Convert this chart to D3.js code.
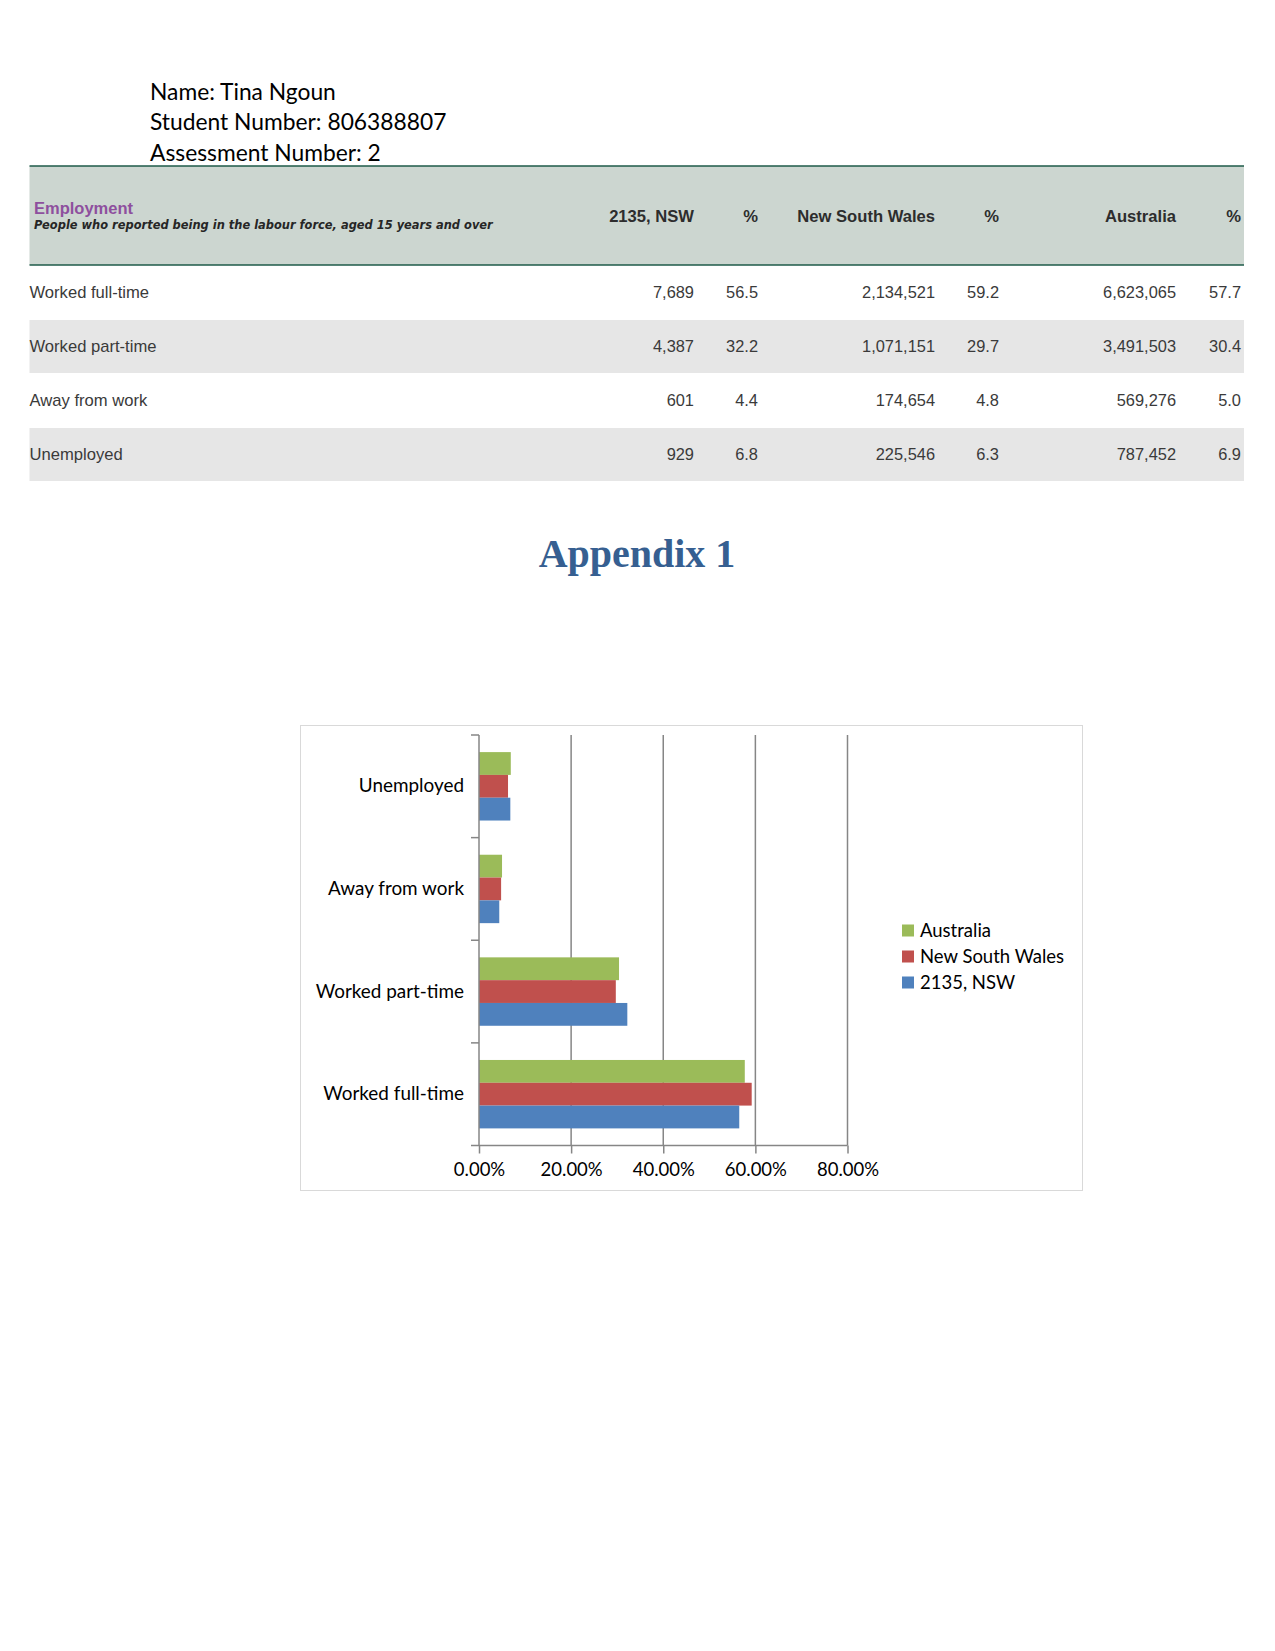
<!DOCTYPE html>
<html><head><meta charset="utf-8">
<script src="https://cdn.jsdelivr.net/npm/d3@7"></script>
<style>
html,body{margin:0;padding:0;background:#fff;}
svg{display:block;}
</style></head>
<body>
<svg id="page" width="1275" height="1651"></svg>
<script>
// ---- data ----
const headerLines = ["Name: Tina Ngoun", "Student Number: 806388807", "Assessment Number: 2"];
const tableTitle = "Employment";
const tableSubtitle = "People who reported being in the labour force, aged 15 years and over";
const columnHeaders = ["2135, NSW", "%", "New South Wales", "%", "Australia", "%"];
const rowLabels = ["Worked full-time", "Worked part-time", "Away from work", "Unemployed"];
const count2135 = ["7,689", "4,387", "601", "929"];
const pct2135 = [56.5, 32.2, 4.4, 6.8];
const countNSW = ["2,134,521", "1,071,151", "174,654", "225,546"];
const pctNSW = [59.2, 29.7, 4.8, 6.3];
const countAus = ["6,623,065", "3,491,503", "569,276", "787,452"];
const pctAus = [57.7, 30.4, 5.0, 6.9];
const appendixTitle = "Appendix 1";
const chartCategories = ["Unemployed", "Away from work", "Worked part-time", "Worked full-time"];
const seriesNames = ["Australia", "New South Wales", "2135, NSW"];
const seriesColors = ["#9bbb59", "#c0504d", "#4f81bd"];
const xTicks = [0, 0.2, 0.4, 0.6, 0.8];

const svg = d3.select("#page");
svg.append("rect").attr("width",1275).attr("height",1651).attr("fill","#fff");

// ---- header lines ----
svg.selectAll("text.hdr").data(headerLines).join("text")
  .attr("class","hdr")
  .attr("x",150).attr("y",(d,i)=>99.5+i*30.5)
  .attr("font-family","Lato, 'Open Sans', sans-serif")
  .attr("font-size",22.8).attr("fill","#000").text(d=>d);

// ---- table ----
const tLeft = 29.5, tRight = 1244;
const hTop = 166, hBot = 265;
svg.append("rect").attr("x",tLeft).attr("y",hTop).attr("width",tRight-tLeft).attr("height",hBot-hTop).attr("fill","#ccd6d0");
svg.append("line").attr("x1",tLeft).attr("x2",tRight).attr("y1",hTop).attr("y2",hTop).attr("stroke","#1e5a48").attr("stroke-width",1.5);
svg.append("line").attr("x1",tLeft).attr("x2",tRight).attr("y1",hBot).attr("y2",hBot).attr("stroke","#1e5a48").attr("stroke-width",1.5);
svg.append("text").attr("x",34).attr("y",214).attr("font-family","'Liberation Sans', Arial, sans-serif")
  .attr("font-weight","bold").attr("font-size",16.5).attr("fill","#8e4f9e").text(tableTitle);
svg.append("text").attr("x",34).attr("y",229).attr("font-family","'DejaVu Sans', sans-serif")
  .attr("font-weight","bold").attr("font-style","italic").attr("font-size",11.45).attr("fill","#262626").text(tableSubtitle);

const colX = [694, 758, 935, 999, 1176, 1241];
svg.selectAll("text.colh").data(columnHeaders).join("text")
  .attr("class","colh").attr("x",(d,i)=>colX[i]).attr("y",222)
  .attr("text-anchor","end").attr("font-family","'Liberation Sans', Arial, sans-serif")
  .attr("font-weight","bold").attr("font-size",16.6).attr("fill","#2d2d2d").text(d=>d);

const rowTop = 265, rowH = 54;
const rows = rowLabels.map((lab,i)=>({lab, cells:[count2135[i], pct2135[i].toFixed(1), countNSW[i], pctNSW[i].toFixed(1), countAus[i], pctAus[i].toFixed(1)]}));
const rg = svg.selectAll("g.row").data(rows).join("g").attr("class","row")
  .attr("transform",(d,i)=>`translate(0,${rowTop+i*rowH})`);
rg.filter((d,i)=>i%2===1).append("rect").attr("x",tLeft).attr("y",1).attr("width",tRight-tLeft).attr("height",rowH-1).attr("fill","#e6e6e6");
rg.append("text").attr("x",tLeft).attr("y",32.5).attr("font-family","'Liberation Sans', Arial, sans-serif")
  .attr("font-size",16.6).attr("fill","#3a3a3a").text(d=>d.lab);
rg.selectAll("text.cell").data(d=>d.cells).join("text").attr("class","cell")
  .attr("x",(d,i)=>colX[i]).attr("y",32.5).attr("text-anchor","end")
  .attr("font-family","'Liberation Sans', Arial, sans-serif")
  .attr("font-size",16.4).attr("fill","#3a3a3a").text(d=>d);

// ---- Appendix title ----
svg.append("text").attr("x",637).attr("y",567).attr("text-anchor","middle")
  .attr("font-family","'Liberation Serif', serif").attr("font-weight","bold")
  .attr("font-size",40).attr("fill","#365f91").text(appendixTitle);

// ---- chart ----
svg.append("rect").attr("x",300.5).attr("y",725.5).attr("width",782).attr("height",465)
  .attr("fill","#fff").attr("stroke","#d9d9d9").attr("stroke-width",1);

const plotTop = 735, plotBot = 1145.5;
const x = d3.scaleLinear().domain([0,0.8]).range([479,847.5]);
const y = d3.scaleBand().domain(chartCategories).range([plotTop,plotBot]).paddingInner(0.3333).paddingOuter(0.1667);
const ySub = d3.scaleBand().domain(seriesNames).range([0,y.bandwidth()]);
const step = y.step();
const axisColor = "#868686";

// gridlines
svg.selectAll("line.grid").data(xTicks.slice(1)).join("line").attr("class","grid")
  .attr("x1",d=>x(d)).attr("x2",d=>x(d)).attr("y1",plotTop).attr("y2",plotBot)
  .attr("stroke",axisColor).attr("stroke-width",1.5);

// bars
const seriesVals = {"Australia":pctAus, "New South Wales":pctNSW, "2135, NSW":pct2135};
const barData = [];
chartCategories.forEach(c=>{
  const ri = rowLabels.indexOf(c);
  seriesNames.forEach((s,si)=>barData.push({c, s, v: seriesVals[s][ri]/100, color: seriesColors[si]}));
});
svg.selectAll("rect.bar").data(barData).join("rect").attr("class","bar")
  .attr("x",x(0)).attr("y",d=>y(d.c)+ySub(d.s))
  .attr("width",d=>x(d.v)-x(0)).attr("height",ySub.bandwidth())
  .attr("fill",d=>d.color);

// x axis
const xAxis = d3.axisBottom(x).tickValues(xTicks).tickFormat(d=>(d*100).toFixed(2)+"%").tickSize(8).tickPadding(9);
const gx = svg.append("g").attr("transform",`translate(0,${plotBot})`).call(xAxis);
gx.select(".domain").remove();
gx.append("line").attr("x1",x(0)-8).attr("x2",x(0.8)).attr("y1",0).attr("y2",0).attr("stroke",axisColor).attr("stroke-width",1.5);
gx.selectAll(".tick line").attr("stroke",axisColor).attr("stroke-width",1.5);
gx.selectAll(".tick text").attr("font-family","Lato, 'Open Sans', sans-serif").attr("font-size",18.5).attr("fill","#000");

// y axis
const gy = svg.append("g").attr("transform",`translate(${x(0)},0)`);
gy.append("line").attr("x1",0).attr("x2",0).attr("y1",plotTop).attr("y2",plotBot).attr("stroke",axisColor).attr("stroke-width",1.5);
svg.selectAll("line.ytick").data(d3.range(chartCategories.length)).join("line").attr("class","ytick")
  .attr("x1",x(0)-8).attr("x2",x(0))
  .attr("y1",i=>plotTop + i*step).attr("y2",i=>plotTop + i*step)
  .attr("stroke",axisColor).attr("stroke-width",1.5);
svg.selectAll("text.ylab").data(chartCategories).join("text").attr("class","ylab")
  .attr("x",x(0)-15).attr("y",d=>y(d)+y.bandwidth()/2-0.5).attr("dy","0.35em")
  .attr("text-anchor","end").attr("font-family","Lato, 'Open Sans', sans-serif")
  .attr("font-size",18.9).attr("fill","#000").text(d=>d);

// legend
const lg = svg.selectAll("g.leg").data(seriesNames).join("g").attr("class","leg")
  .attr("transform",(d,i)=>`translate(902,${930.5+i*26})`);
lg.append("rect").attr("x",0).attr("y",-6).attr("width",12).attr("height",12).attr("fill",(d,i)=>seriesColors[i]);
lg.append("text").attr("x",18).attr("y",0).attr("dy","0.35em").attr("font-family","Lato, 'Open Sans', sans-serif")
  .attr("font-size",18.5).attr("fill","#000").text(d=>d);
</script>
</body></html>
